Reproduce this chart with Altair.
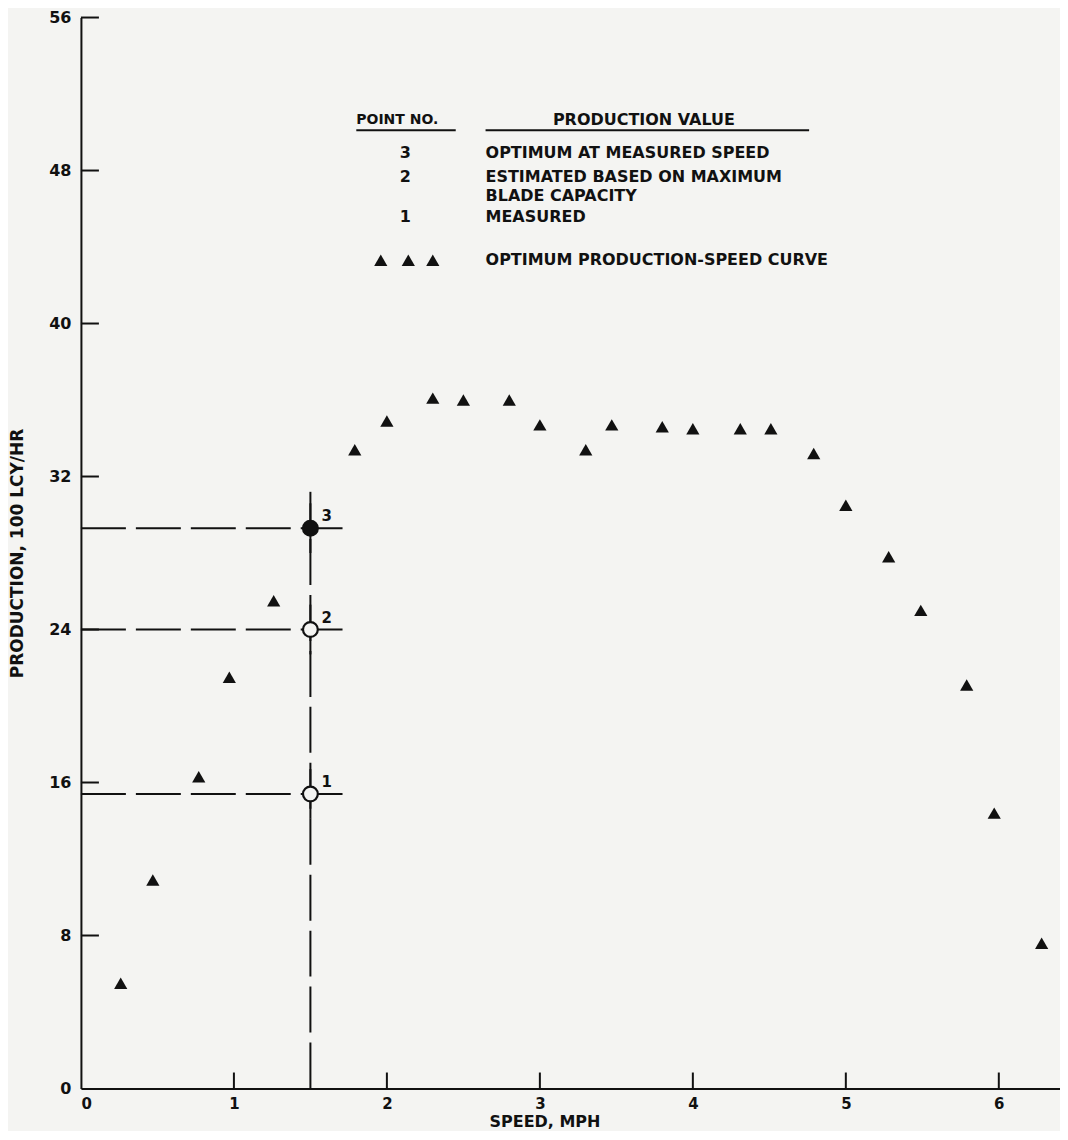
import altair as alt
import pandas as pd

# ---- data ----
curve_speed = [0.26, 0.47, 0.77, 0.97, 1.26, 1.79, 2.0, 2.30, 2.50, 2.80, 3.0, 3.30,
               3.47, 3.80, 4.0, 4.31, 4.51, 4.79, 5.0, 5.28, 5.49, 5.79, 5.97, 6.28]
curve_prod = [5.5, 10.9, 16.3, 21.5, 25.5, 33.4, 34.9, 36.1, 36.0, 36.0, 34.7, 33.4,
              34.7, 34.6, 34.5, 34.5, 34.5, 33.2, 30.5, 27.8, 25.0, 21.1, 14.4, 7.6]

point_no = ["1", "2", "3"]
point_speed = [1.5, 1.5, 1.5]
point_prod = [15.4, 24.0, 29.3]
point_filled = [False, False, True]

x_ticks = [0, 1, 2, 3, 4, 5, 6]
y_ticks = [0, 8, 16, 24, 32, 40, 48, 56]

legend_nums = ["3", "2", "1"]
legend_texts = ["OPTIMUM AT MEASURED SPEED", "ESTIMATED BASED ON MAXIMUM", "BLADE CAPACITY", "MEASURED"]
legend_curve_text = "OPTIMUM PRODUCTION-SPEED CURVE"
header_left = "POINT NO."
header_right = "PRODUCTION VALUE"

# ---- layout (data coordinates for annotations) ----
X_MAX, Y_MAX = 6.4, 56
W, H = 980, 1072
INK = "#111111"
BG = "#f4f4f2"
FONT = "DejaVu Sans"

curve_df = pd.DataFrame({"speed": curve_speed, "prod": curve_prod})
pts_df = pd.DataFrame({"speed": point_speed, "prod": point_prod, "no": point_no, "filled": point_filled})

x_scale = alt.Scale(domain=[0, X_MAX], nice=False)
y_scale = alt.Scale(domain=[0, Y_MAX], nice=False)

base_x = alt.X("speed:Q", scale=x_scale,
               axis=alt.Axis(values=x_ticks, format="d", title="SPEED, MPH", ticks=False, grid=False,
                             domainColor=INK, domainWidth=2, labelPadding=8,
                             labelFont=FONT, labelFontSize=15, labelColor=INK, labelFontWeight="bold",
                             titleFont=FONT, titleFontSize=16, titleColor=INK, titleFontWeight="bold",
                             titleX=464, titleY=33, titleBaseline="middle"))
base_y = alt.Y("prod:Q", scale=y_scale,
               axis=alt.Axis(values=y_ticks, format="d", title="PRODUCTION, 100 LCY/HR", ticks=False, grid=False,
                             domainColor=INK, domainWidth=2, labelPadding=10,
                             labelFont=FONT, labelFontSize=16, labelColor=INK, labelFontWeight="bold",
                             titleFont=FONT, titleFontSize=17, titleColor=INK, titleFontWeight="bold",
                             titleX=-63, titleY=536, titleAlign="center", titleBaseline="middle"))

curve = alt.Chart(curve_df).mark_point(shape="triangle-up", filled=True, size=175,
                                       color=INK, opacity=1).encode(x=base_x, y=base_y)

# inward tick marks
xt = alt.Chart(pd.DataFrame({"speed": x_ticks[1:]})).mark_rule(color=INK, strokeWidth=2).encode(
    x=alt.X("speed:Q", scale=x_scale), y=alt.value(H), y2=alt.value(H - 16))
yt = alt.Chart(pd.DataFrame({"prod": y_ticks[1:]})).mark_rule(color=INK, strokeWidth=2).encode(
    y=alt.Y("prod:Q", scale=y_scale), x=alt.value(0), x2=alt.value(18))

# dashed guide lines
h_dash = pd.DataFrame({"x0": [0] * 3, "x1": point_speed, "y0": point_prod})
h_solid = pd.DataFrame({"x0": point_speed, "x1": [1.71] * 3, "y0": point_prod})
guide_h = alt.Chart(h_dash).mark_rule(color=INK, strokeWidth=2, strokeDash=[45, 10]).encode(
    x=alt.X("x0:Q", scale=x_scale), x2="x1:Q", y=alt.Y("y0:Q", scale=y_scale))
guide_hs = alt.Chart(h_solid).mark_rule(color=INK, strokeWidth=2).encode(
    x=alt.X("x0:Q", scale=x_scale), x2="x1:Q", y=alt.Y("y0:Q", scale=y_scale))
v_df = pd.DataFrame({"x0": [1.5], "y0": [0], "y1": [31.2]})
guide_v = alt.Chart(v_df).mark_rule(color=INK, strokeWidth=2, strokeDash=[46, 10]).encode(
    x=alt.X("x0:Q", scale=x_scale), y=alt.Y("y0:Q", scale=y_scale), y2="y1:Q")
vs_df = pd.DataFrame({"x0": point_speed, "y0": [p - 1.3 for p in point_prod], "y1": [p + 1.3 for p in point_prod]})
guide_vs = alt.Chart(vs_df).mark_rule(color=INK, strokeWidth=2).encode(
    x=alt.X("x0:Q", scale=x_scale), y=alt.Y("y0:Q", scale=y_scale), y2="y1:Q")

circles = alt.Chart(pts_df).mark_point(shape="circle", size=220, strokeWidth=2.2, opacity=1).encode(
    x=alt.X("speed:Q", scale=x_scale), y=alt.Y("prod:Q", scale=y_scale),
    stroke=alt.value(INK),
    fill=alt.condition("datum.filled", alt.value(INK), alt.value(BG)))
circle_lbl = alt.Chart(pts_df).mark_text(font=FONT, fontSize=15, fontWeight="bold", color=INK,
                                         align="left", dx=11, dy=-12).encode(
    x=alt.X("speed:Q", scale=x_scale), y=alt.Y("prod:Q", scale=y_scale), text="no:N")

# legend block
hdr = pd.DataFrame({"x": [1.80], "y": [50.63], "t": [header_left]})
hdr2 = pd.DataFrame({"x": [3.68], "y": [50.63], "t": [header_right]})
ul = pd.DataFrame({"x0": [1.80, 2.645], "x1": [2.45, 4.76], "y0": [50.1, 50.1]})
nums = pd.DataFrame({"x": [2.12, 2.12, 2.12], "y": [48.9, 47.65, 45.56], "t": legend_nums})
txts = pd.DataFrame({"x": [2.645] * 4, "y": [48.9, 47.65, 46.66, 45.56], "t": legend_texts})
ltri = pd.DataFrame({"x": [1.96, 2.14, 2.30], "y": [43.31] * 3})
lcur = pd.DataFrame({"x": [2.645], "y": [43.31], "t": [legend_curve_text]})

def txt(df, align, size=16):
    return alt.Chart(df).mark_text(font=FONT, fontSize=size, fontWeight="bold", color=INK,
                                   align=align, baseline="middle").encode(
        x=alt.X("x:Q", scale=x_scale), y=alt.Y("y:Q", scale=y_scale), text="t:N")

hdr_l = txt(hdr, "left", 14)
hdr_r = txt(hdr2, "center", 16)
under = alt.Chart(ul).mark_rule(color=INK, strokeWidth=2).encode(
    x=alt.X("x0:Q", scale=x_scale), x2="x1:Q", y=alt.Y("y0:Q", scale=y_scale))
nums_l = txt(nums, "center")
txts_l = txt(txts, "left")
tri_l = alt.Chart(ltri).mark_point(shape="triangle-up", filled=True, size=175, color=INK, opacity=1).encode(
    x=alt.X("x:Q", scale=x_scale), y=alt.Y("y:Q", scale=y_scale))
cur_l = txt(lcur, "left")

chart = alt.layer(
    curve, xt, yt, guide_h, guide_hs, guide_v, guide_vs, circles, circle_lbl,
    hdr_l, hdr_r, under, nums_l, txts_l, tri_l, cur_l
).properties(
    width=W, height=H,
    autosize=alt.AutoSizeParams(type="none"),
    padding={"left": 73, "top": 9, "right": 0, "bottom": 42},
    background=BG,
).configure_view(stroke=None, fill=BG)

chart.save("out.html", embed_options={"renderer": "svg", "actions": False})
